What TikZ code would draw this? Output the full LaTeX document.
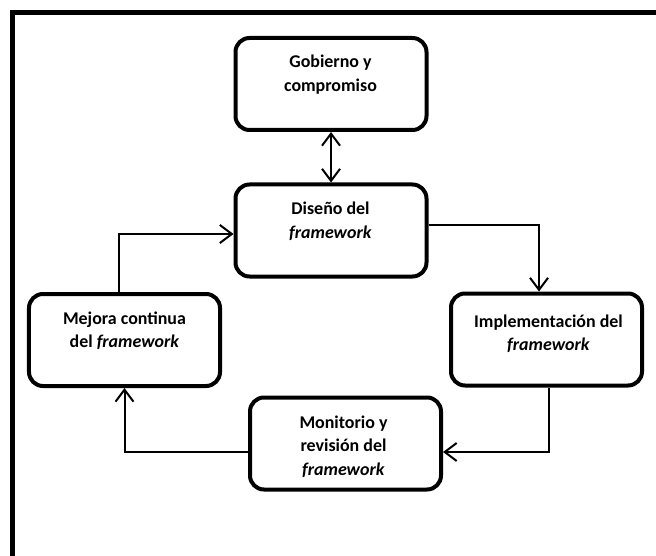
\documentclass[tikz,border=0pt]{standalone}
\usepackage{fontspec}
\setmainfont{Carlito}
\usetikzlibrary{arrows.meta}
\newcommand{\twolines}[1]{\begin{tabular}[t]{@{}c@{}}#1\end{tabular}}
\begin{document}
\begin{tikzpicture}[x=1bp,y=-1bp,
  stepbox/.style={draw=black, line width=4bp, rounded corners=14bp, minimum width=191bp, minimum height=92bp, inner sep=0pt, fill=white},
  txt/.style={anchor=base, inner sep=0pt, font=\fontsize{18}{24}\selectfont\bfseries},
  conn/.style={line width=2bp, -{Straight Barb[length=12bp,width=18bp,line width=2bp]}},
  frame/.style={draw=black, line width=5bp}]
\fill[white] (0,0) rectangle (656,556);
\useasboundingbox (0,0) rectangle (656,556);
\coordinate (fbl) at (12.5,556);
\coordinate (ftl) at (12.5,12.5);
\coordinate (ftr) at (656,12.5);
\draw[frame] (fbl) -- (ftl) -- (ftr);
% boxes
\node[stepbox] (gob) at (331,84) {};
\node[stepbox] (dis) at (331,230.5) {};
\node[stepbox] (mej) at (124.5,340) {};
\node[stepbox] (imp) at (546.5,339.5) {};
\node[stepbox] (mon) at (345.5,443.5) {};
% texts
\node[txt] (gobt) at (330.5,68) {\twolines{Gobierno y\\compromiso}};
\node[txt] (dist) at (330.5,215) {\twolines{Diseño del\\\textit{framework}}};
\node[txt] (mejt) at (124.5,324) {\twolines{Mejora continua\\del \textit{framework}}};
\node[txt] (impt) at (548.5,327) {\twolines{Implementación del\\\textit{framework}}};
\node[txt] (mont) at (343.5,428) {\twolines{Monitorio y\\revisión del\\\textit{framework}}};
% connectors
\draw[conn, {Straight Barb[length=12bp,width=18bp,line width=2bp]}-{Straight Barb[length=12bp,width=18bp,line width=2bp]}] (gob.south) -- (dis.north);
\draw[conn] ([yshift=5.5bp]dis.east) -| ([xshift=-7.5bp]imp.north);
\draw[conn] ([xshift=2.5bp]imp.south) |- ([yshift=-8.5bp]mon.east);
\draw[conn] ([yshift=-8.5bp]mon.west) -| (mej.south);
\draw[conn] ([xshift=-5.5bp]mej.north) |- ([yshift=-3.5bp]dis.west);
\end{tikzpicture}
\end{document}
